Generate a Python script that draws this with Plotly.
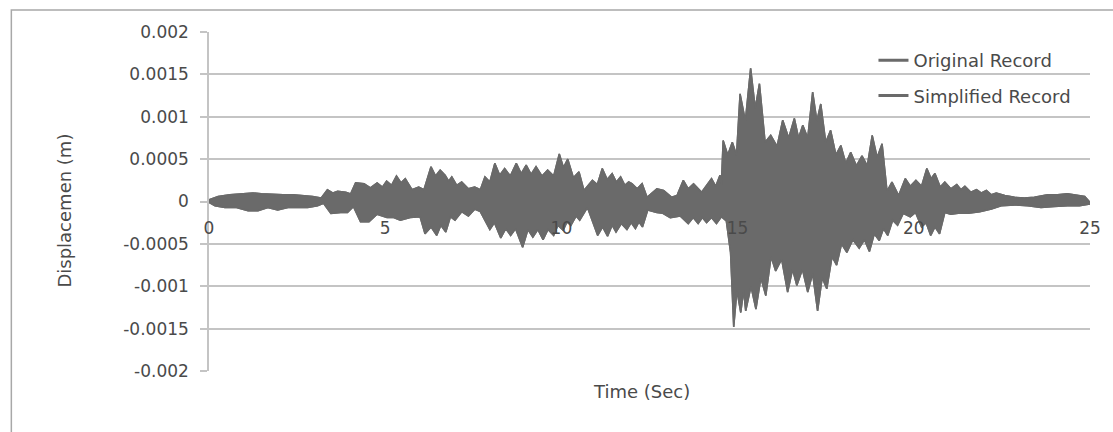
import plotly.graph_objects as go

# Upper envelope of the displacement record (time s, displacement m)
upper_t = [0.00, 0.26, 0.59, 0.92, 1.25, 1.48, 1.81, 2.10, 2.38, 2.66, 2.94, 3.18, 3.36, 3.52, 3.65, 3.88,
           4.02, 4.16, 4.40, 4.58, 4.77, 4.92, 5.04, 5.18, 5.32, 5.45, 5.57, 5.76, 5.95, 6.10, 6.30, 6.43,
           6.56, 6.70, 6.80, 6.89, 7.03, 7.17, 7.36, 7.54, 7.70, 7.83, 7.97, 8.11, 8.25, 8.39, 8.55, 8.72,
           8.86, 9.00, 9.14, 9.28, 9.45, 9.61, 9.78, 9.94, 10.06, 10.18, 10.34, 10.50, 10.64, 10.88, 11.02,
           11.16, 11.30, 11.44, 11.56, 11.68, 11.80, 11.91, 12.00, 12.15, 12.29, 12.43, 12.71, 12.90, 13.13,
           13.28, 13.46, 13.60, 13.75, 13.98, 14.26, 14.38, 14.50, 14.54, 14.59, 14.72, 14.85, 14.97, 15.07,
           15.22, 15.37, 15.50, 15.62, 15.78, 15.94, 16.12, 16.28, 16.45, 16.61, 16.73, 16.85, 16.99, 17.13,
           17.25, 17.36, 17.50, 17.64, 17.79, 17.93, 18.07, 18.21, 18.37, 18.53, 18.68, 18.82, 18.96, 19.10,
           19.24, 19.38, 19.57, 19.76, 19.90, 20.06, 20.22, 20.37, 20.49, 20.60, 20.75, 20.88, 21.05, 21.22,
           21.34, 21.45, 21.62, 21.78, 21.92, 22.06, 22.20, 22.34, 22.58, 22.86, 23.14, 23.42, 23.80, 24.08,
           24.36, 24.65, 24.85, 25.00]
upper_v = [0.00002, 0.00006, 0.00008, 0.00009, 0.00010, 0.00009, 0.00008, 0.00008, 0.00008, 0.00007, 0.00006,
           0.00004, 0.00014, 0.00010, 0.00012, 0.00011, 0.00009, 0.00022, 0.00021, 0.00016, 0.00022, 0.00017,
           0.00024, 0.00019, 0.00030, 0.00022, 0.00027, 0.00014, 0.00017, 0.00014, 0.00041, 0.00030, 0.00037,
           0.00031, 0.00024, 0.00029, 0.00019, 0.00023, 0.00015, 0.00017, 0.00014, 0.00029, 0.00023, 0.00045,
           0.00031, 0.00039, 0.00030, 0.00045, 0.00033, 0.00043, 0.00032, 0.00041, 0.00030, 0.00037, 0.00030,
           0.00056, 0.00040, 0.00050, 0.00028, 0.00035, 0.00013, 0.00025, 0.00020, 0.00039, 0.00026, 0.00033,
           0.00023, 0.00029, 0.00019, 0.00023, 0.00021, 0.00015, 0.00021, 0.00005, 0.00015, 0.00013, 0.00005,
           0.00007, 0.00025, 0.00015, 0.00021, 0.00011, 0.00027, 0.00018, 0.00031, 0.00020, 0.00072, 0.00055,
           0.00070, 0.00055, 0.00127, 0.00095, 0.00157, 0.00110, 0.00139, 0.00070, 0.00078, 0.00065, 0.00096,
           0.00075, 0.00098, 0.00075, 0.00090, 0.00075, 0.00129, 0.00095, 0.00115, 0.00070, 0.00084, 0.00055,
           0.00066, 0.00045, 0.00058, 0.00042, 0.00054, 0.00042, 0.00078, 0.00052, 0.00068, 0.00012, 0.00023,
           0.00007, 0.00027, 0.00018, 0.00025, 0.00018, 0.00039, 0.00027, 0.00033, 0.00017, 0.00023, 0.00015,
           0.00020, 0.00014, 0.00018, 0.00011, 0.00014, 0.00010, 0.00013, 0.00008, 0.00010, 0.00007, 0.00005,
           0.00004, 0.00005, 0.00008, 0.00008, 0.00009, 0.00007, 0.00006, -0.00001]

# Lower envelope of the displacement record (time s, displacement m)
lower_t = [0.00, 0.17, 0.45, 0.78, 1.11, 1.39, 1.67, 1.95, 2.24, 2.52, 2.80, 3.08, 3.25, 3.46, 3.74, 3.93,
           4.10, 4.30, 4.54, 4.77, 5.05, 5.24, 5.43, 5.71, 5.99, 6.13, 6.30, 6.46, 6.58, 6.72, 6.85, 6.98,
           7.17, 7.36, 7.54, 7.70, 7.97, 8.10, 8.28, 8.42, 8.56, 8.70, 8.90, 9.05, 9.19, 9.33, 9.48, 9.62,
           9.78, 9.90, 10.05, 10.16, 10.27, 10.42, 10.52, 10.74, 11.03, 11.17, 11.31, 11.44, 11.55, 11.70,
           11.86, 11.98, 12.10, 12.20, 12.30, 12.45, 12.71, 12.88, 13.09, 13.37, 13.60, 13.74, 13.88, 14.00,
           14.12, 14.26, 14.40, 14.54, 14.68, 14.80, 14.89, 14.98, 15.09, 15.17, 15.23, 15.38, 15.52, 15.66,
           15.80, 15.95, 16.08, 16.25, 16.42, 16.56, 16.68, 16.84, 16.99, 17.13, 17.27, 17.40, 17.53, 17.68,
           17.81, 17.95, 18.10, 18.27, 18.45, 18.60, 18.74, 18.88, 19.02, 19.14, 19.26, 19.40, 19.54, 19.70,
           19.90, 20.05, 20.22, 20.35, 20.48, 20.60, 20.73, 20.88, 21.05, 21.26, 21.54, 21.87, 22.20, 22.48,
           22.86, 23.24, 23.61, 23.98, 24.36, 24.70, 25.00]
lower_v = [-0.00001, -0.00005, -0.00007, -0.00007, -0.00011, -0.00011, -0.00007, -0.00010, -0.00007, -0.00007,
           -0.00007, -0.00005, -0.00002, -0.00014, -0.00013, -0.00013, -0.00006, -0.00024, -0.00024, -0.00015,
           -0.00019, -0.00019, -0.00022, -0.00019, -0.00018, -0.00038, -0.00030, -0.00040, -0.00028, -0.00036,
           -0.00018, -0.00022, -0.00012, -0.00017, -0.00009, -0.00012, -0.00033, -0.00025, -0.00043, -0.00032,
           -0.00040, -0.00032, -0.00054, -0.00033, -0.00042, -0.00033, -0.00045, -0.00033, -0.00040, -0.00028,
           -0.00034, -0.00024, -0.00028, -0.00017, -0.00022, -0.00007, -0.00040, -0.00030, -0.00041, -0.00028,
           -0.00036, -0.00026, -0.00033, -0.00025, -0.00032, -0.00024, -0.00030, -0.00010, -0.00013, -0.00014,
           -0.00019, -0.00017, -0.00026, -0.00019, -0.00026, -0.00019, -0.00025, -0.00019, -0.00026, -0.00018,
           -0.00023, -0.00060, -0.00148, -0.00105, -0.00131, -0.00105, -0.00129, -0.00100, -0.00127, -0.00090,
           -0.00111, -0.00065, -0.00082, -0.00068, -0.00107, -0.00080, -0.00099, -0.00080, -0.00107, -0.00085,
           -0.00129, -0.00090, -0.00103, -0.00065, -0.00075, -0.00050, -0.00060, -0.00045, -0.00055, -0.00045,
           -0.00059, -0.00038, -0.00046, -0.00032, -0.00040, -0.00022, -0.00028, -0.00014, -0.00018, -0.00013,
           -0.00030, -0.00025, -0.00040, -0.00030, -0.00038, -0.00013, -0.00015, -0.00014, -0.00014, -0.00012,
           -0.00009, -0.00005, -0.00004, -0.00005, -0.00007, -0.00006, -0.00005, -0.00005, -0.00003]

series_names = ["Original Record", "Simplified Record"]
y_ticks = [0.002, 0.0015, 0.001, 0.0005, 0, -0.0005, -0.001, -0.0015, -0.002]
y_tick_text = ["0.002", "0.0015", "0.001", "0.0005", "0", "-0.0005", "-0.001", "-0.0015", "-0.002"]
x_ticks = [0, 5, 10, 15, 20, 25]
x_tick_text = ["0", "5", "10", "15", "20", "25"]

SIG = "#6a6a6a"
TXT = "#4a4a4a"
GRID = "#c4c4c4"
FONT = "DejaVu Sans"

W, H = 1113, 432
ML, MR, MT, MB = 209, 17, 32, 61
PW, PH = W - ML - MR, H - MT - MB

def px(xp):
    return (xp - ML) / PW

def py(yp):
    return (H - MB - yp) / PH

fig = go.Figure()

poly_x = upper_t + lower_t[::-1]
poly_y = upper_v + lower_v[::-1]
# Both records coincide at this scale
for nm in series_names:
    fig.add_trace(go.Scatter(x=poly_x, y=poly_y, mode="lines", fill="toself", fillcolor=SIG,
                             line=dict(color=SIG, width=1.5), name=nm, showlegend=False,
                             hoverinfo="skip"))
for i, nm in enumerate(series_names):
    fig.add_trace(go.Scatter(x=[None], y=[None], mode="lines", line=dict(color=SIG, width=3),
                             name=nm, legendgroup="g%d" % i, showlegend=True))

fig.update_layout(
    width=W, height=H,
    margin=dict(l=ML, r=MR, t=MT, b=MB),
    paper_bgcolor="white", plot_bgcolor="white",
    font=dict(family=FONT, size=17, color=TXT),
    showlegend=True,
    legend=dict(x=px(878), y=py(42), xanchor="left", yanchor="top",
                bgcolor="rgba(0,0,0,0)", font=dict(size=18, color=TXT),
                traceorder="grouped", tracegroupgap=9),
    xaxis=dict(range=[0, 25], tickvals=x_ticks, ticktext=x_tick_text,
               anchor="free", position=0.5, showgrid=False, zeroline=False,
               showline=False, ticks="", ticklabelstandoff=14,
               tickfont=dict(size=17, color=TXT)),
    yaxis=dict(range=[-0.002, 0.002], tickvals=y_ticks, ticktext=y_tick_text,
               showgrid=True, gridcolor=GRID, gridwidth=1.5,
               zeroline=True, zerolinecolor=GRID, zerolinewidth=1.5,
               showline=True, linecolor=GRID, linewidth=1.5,
               ticks="outside", ticklen=7, tickcolor=GRID, tickwidth=1.5,
               ticklabelstandoff=8, tickfont=dict(size=17, color=TXT)),
    annotations=[
        dict(text="Time (Sec)", x=px(644), y=py(404), xref="paper", yref="paper",
             showarrow=False, font=dict(size=18, color=TXT)),
        dict(text="Displacemen (m)", x=px(50), y=py(211), xref="paper", yref="paper",
             showarrow=False, textangle=-90, font=dict(size=18, color=TXT)),
    ],
    shapes=[
        dict(type="rect", xref="paper", yref="paper", x0=px(10), x1=px(1125), y0=py(445), y1=py(10),
             line=dict(color="#a8a8a8", width=1.5), fillcolor="rgba(0,0,0,0)", layer="below"),
    ],
)

fig.write_html("out.html")
